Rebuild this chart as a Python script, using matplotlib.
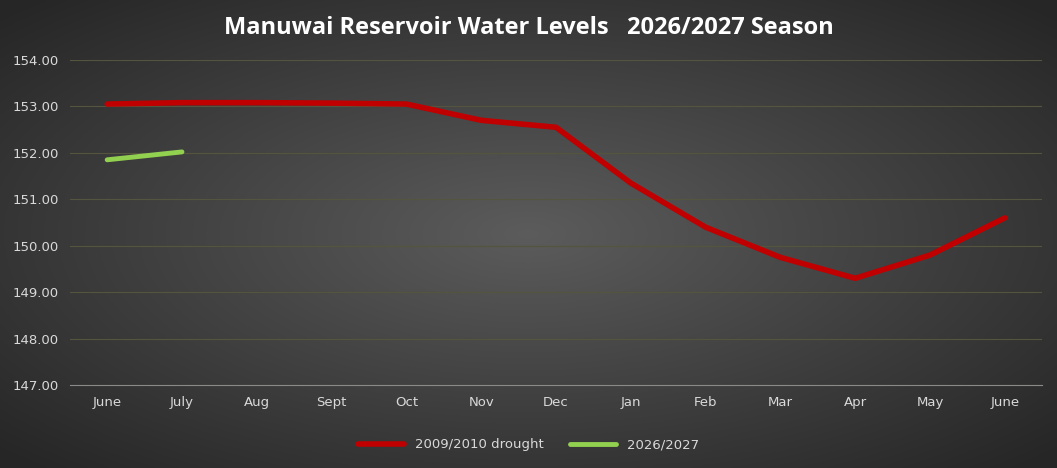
import matplotlib.pyplot as plt
import numpy as np

months = ["June", "July", "Aug", "Sept", "Oct", "Nov", "Dec", "Jan", "Feb", "Mar", "Apr", "May", "June"]
drought_2009 = [153.05, 153.08, 153.08, 153.07, 153.05, 152.70, 152.55, 151.35, 150.40, 149.75, 149.30, 149.80, 150.60]
season_2026 = [151.85, 152.02]

fig = plt.figure(figsize=(10.57, 4.68), dpi=100)

# radial gradient background
bg = fig.add_axes([0, 0, 1, 1])
yy, xx = np.mgrid[-1:1:300j, -1:1:600j]
r = np.sqrt((xx * 0.9) ** 2 + (yy * 0.9) ** 2)
img = np.clip(0.36 - 0.17 * r, 0.15, 0.36)
bg.imshow(np.dstack([img, img, img]), aspect="auto", extent=[0, 1, 0, 1])
bg.set_axis_off()

ax = fig.add_axes([0.066, 0.177, 0.92, 0.695])
ax.patch.set_alpha(0)
x = np.arange(len(months))
ax.plot(x, drought_2009, color="#c00000", lw=4, label="2009/2010 drought", solid_capstyle="round")
ax.plot(x[:len(season_2026)], season_2026, color="#92d050", lw=3.5, label="2026/2027", solid_capstyle="round")

ax.set_xlim(-0.5, len(months) - 0.5)
ax.set_ylim(147, 154)
ax.set_yticks(np.arange(147, 154.1, 1))
ax.set_yticklabels([f"{v:.2f}" for v in np.arange(147, 154.1, 1)])
ax.set_xticks(x)
ax.set_xticklabels(months)
ax.grid(axis="y", color="#55553f", lw=0.8)
ax.tick_params(colors="#d9d9d9", labelsize=9.5, length=0, pad=8)
for s in ["top", "right", "left"]:
    ax.spines[s].set_visible(False)
ax.spines["bottom"].set_color("#8a8a8a")

title = "Manuwai Reservoir Water Levels   2026/2027 Season"
fig.text(0.5, 0.94, title, ha="center", va="center",
         color="white", fontsize=17, fontweight="bold", family="Open Sans")
fig.legend(loc="lower center", bbox_to_anchor=(0.5, 0.01), ncol=2, frameon=False,
           labelcolor="#d9d9d9", fontsize=9.5, handlelength=3.5, columnspacing=2)

fig.savefig("out.png", dpi=100)
